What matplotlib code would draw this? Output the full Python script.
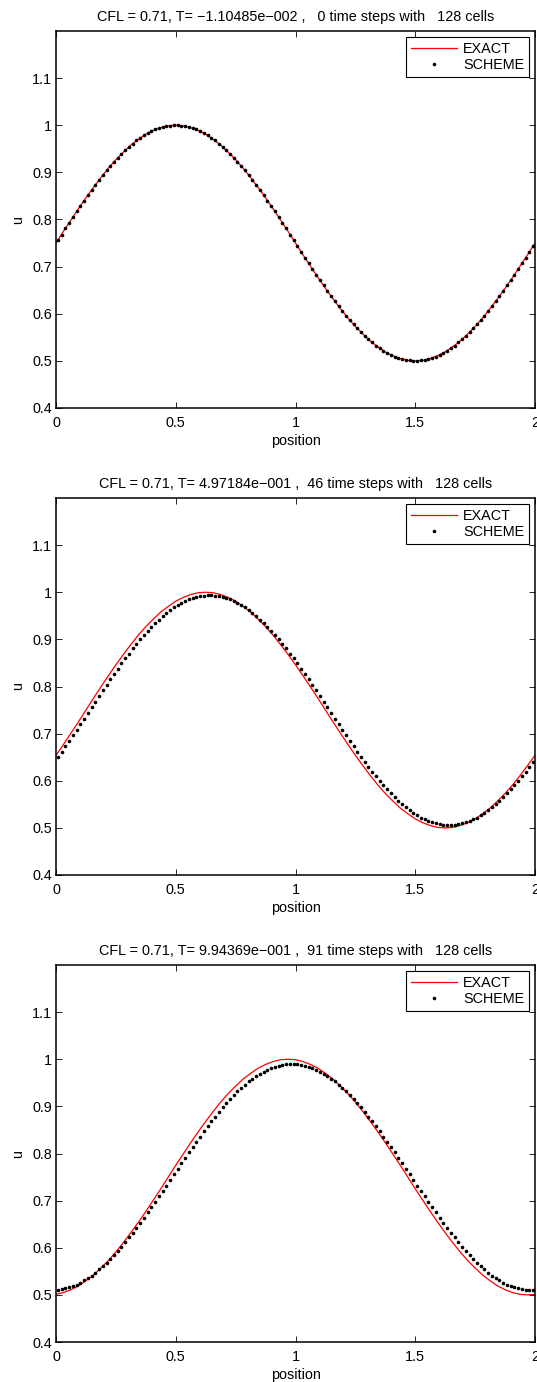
import numpy as np
import matplotlib
matplotlib.use("Agg")
import matplotlib.pyplot as plt
from matplotlib.ticker import FixedLocator, FuncFormatter

plt.rcParams['font.family'] = ['Liberation Sans', 'DejaVu Sans']
plt.rcParams['font.size'] = 10.4

# ---- data ----
n_cells = 128
x_cells = (np.arange(n_cells) + 0.5) * 2.0 / n_cells      # cell centres
x_exact = np.arange(65) * 2.0 / 64                           # exact-solution sample positions

titles = [
    "CFL = 0.71, T= \u22121.10485e\u2212002 ,   0 time steps with   128 cells",
    "CFL = 0.71, T= 4.97184e\u2212001 ,  46 time steps with   128 cells",
    "CFL = 0.71, T= 9.94369e\u2212001 ,  91 time steps with   128 cells",
]

exact_1 = [0.750, 0.775, 0.799, 0.823, 0.846, 0.868, 0.889, 0.909, 0.927, 0.943, 0.958, 0.970, 0.981,
           0.989, 0.995, 0.999, 1.000, 0.999, 0.995, 0.989, 0.981, 0.970, 0.958, 0.943, 0.927, 0.909,
           0.889, 0.868, 0.846, 0.823, 0.799, 0.775, 0.750, 0.725, 0.701, 0.677, 0.654, 0.632, 0.611,
           0.591, 0.573, 0.557, 0.542, 0.530, 0.519, 0.511, 0.505, 0.501, 0.500, 0.501, 0.505, 0.511,
           0.519, 0.530, 0.542, 0.557, 0.573, 0.591, 0.611, 0.632, 0.654, 0.677, 0.701, 0.725, 0.750]

scheme_1 = [0.756, 0.768, 0.781, 0.793, 0.805, 0.817, 0.828, 0.840, 0.851, 0.862, 0.873, 0.884, 0.894,
            0.904, 0.913, 0.922, 0.931, 0.939, 0.947, 0.954, 0.961, 0.968, 0.973, 0.979, 0.983, 0.987,
            0.991, 0.994, 0.996, 0.998, 0.999, 1.000,
            1.000, 0.999, 0.998, 0.996, 0.994, 0.991, 0.987, 0.983, 0.979, 0.973, 0.968, 0.961, 0.954,
            0.947, 0.939, 0.931, 0.922, 0.913, 0.904, 0.894, 0.884, 0.873, 0.862, 0.851, 0.840, 0.828,
            0.817, 0.805, 0.793, 0.781, 0.768, 0.756,
            0.744, 0.732, 0.719, 0.707, 0.695, 0.683, 0.672, 0.660, 0.649, 0.638, 0.627, 0.616, 0.606,
            0.596, 0.587, 0.578, 0.569, 0.561, 0.553, 0.546, 0.539, 0.532, 0.527, 0.521, 0.517, 0.513,
            0.509, 0.506, 0.504, 0.502, 0.501, 0.500,
            0.500, 0.501, 0.502, 0.504, 0.506, 0.509, 0.513, 0.517, 0.521, 0.527, 0.532, 0.539, 0.546,
            0.553, 0.561, 0.569, 0.578, 0.587, 0.596, 0.606, 0.616, 0.627, 0.638, 0.649, 0.660, 0.672,
            0.683, 0.695, 0.707, 0.719, 0.732, 0.744]

exact_2 = [0.654, 0.677, 0.701, 0.725, 0.750, 0.775, 0.799, 0.823, 0.846, 0.868, 0.889, 0.909, 0.927,
           0.943, 0.958, 0.970, 0.981, 0.989, 0.995, 0.999, 1.000, 0.999, 0.995, 0.989, 0.981, 0.970,
           0.958, 0.943, 0.927, 0.909, 0.889, 0.868, 0.846, 0.823, 0.799, 0.775, 0.750, 0.725, 0.701,
           0.677, 0.654, 0.632, 0.611, 0.591, 0.573, 0.557, 0.542, 0.530, 0.519, 0.511, 0.505, 0.501,
           0.500, 0.501, 0.505, 0.511, 0.519, 0.530, 0.542, 0.557, 0.573, 0.591, 0.611, 0.632, 0.654]

scheme_2 = [0.651, 0.662, 0.673, 0.685, 0.697, 0.708, 0.720, 0.732, 0.744, 0.756, 0.768, 0.780, 0.792,
            0.803, 0.815, 0.827, 0.838, 0.849, 0.860, 0.870, 0.881, 0.890, 0.900, 0.909, 0.918, 0.927,
            0.935, 0.942, 0.949, 0.956, 0.962, 0.968, 0.973, 0.978, 0.982, 0.985, 0.988, 0.990, 0.992,
            0.993, 0.994, 0.994, 0.993, 0.992, 0.990, 0.988, 0.985, 0.982, 0.978, 0.973, 0.968, 0.962,
            0.956, 0.949, 0.942, 0.935, 0.927, 0.918, 0.909, 0.900, 0.890, 0.881, 0.870, 0.860, 0.849,
            0.838, 0.827, 0.815, 0.803, 0.792, 0.780, 0.768, 0.756, 0.744, 0.732, 0.720, 0.708, 0.697,
            0.685, 0.673, 0.662, 0.651, 0.640, 0.630, 0.619, 0.610, 0.600, 0.591, 0.582, 0.573, 0.565,
            0.558, 0.551, 0.544, 0.538, 0.532, 0.527, 0.522, 0.518, 0.515, 0.512, 0.510, 0.508, 0.507,
            0.506, 0.506, 0.507, 0.508, 0.510, 0.512, 0.515, 0.518, 0.522, 0.527, 0.532, 0.538, 0.544,
            0.551, 0.558, 0.565, 0.573, 0.582, 0.591, 0.600, 0.610, 0.619, 0.630, 0.640]

exact_3 = [0.501, 0.505, 0.511, 0.519, 0.530, 0.542, 0.557, 0.573, 0.591, 0.611, 0.632, 0.654, 0.677,
           0.701, 0.725, 0.750, 0.775, 0.799, 0.823, 0.846, 0.868, 0.889, 0.909, 0.927, 0.943, 0.958,
           0.970, 0.981, 0.989, 0.995, 0.999, 1.000, 0.999, 0.995, 0.989, 0.981, 0.970, 0.958, 0.943,
           0.927, 0.909, 0.889, 0.868, 0.846, 0.823, 0.799, 0.775, 0.750, 0.725, 0.701, 0.677, 0.654,
           0.632, 0.611, 0.591, 0.573, 0.557, 0.542, 0.530, 0.519, 0.511, 0.505, 0.501, 0.500, 0.501]

scheme_3 = [0.511, 0.512, 0.514, 0.516, 0.519, 0.522, 0.526, 0.531, 0.536, 0.541, 0.547, 0.554, 0.561,
            0.568, 0.576, 0.585, 0.593, 0.602, 0.612, 0.622, 0.632, 0.642, 0.653, 0.664, 0.675, 0.686,
            0.697, 0.709, 0.721, 0.732, 0.744, 0.756, 0.768, 0.779, 0.791, 0.803, 0.814, 0.825, 0.836,
            0.847, 0.858, 0.868, 0.878, 0.888, 0.898, 0.907, 0.915, 0.924, 0.932, 0.939, 0.946, 0.953,
            0.959, 0.964, 0.969, 0.974, 0.978, 0.981, 0.984, 0.986, 0.988, 0.989, 0.990, 0.990, 0.989,
            0.988, 0.986, 0.984, 0.981, 0.978, 0.974, 0.969, 0.964, 0.959, 0.953, 0.946, 0.939, 0.932,
            0.924, 0.915, 0.907, 0.898, 0.888, 0.878, 0.868, 0.858, 0.847, 0.836, 0.825, 0.814, 0.803,
            0.791, 0.779, 0.768, 0.756, 0.744, 0.732, 0.721, 0.709, 0.697, 0.686, 0.675, 0.664, 0.653,
            0.642, 0.632, 0.622, 0.612, 0.602, 0.593, 0.585, 0.576, 0.568, 0.561, 0.554, 0.547, 0.541,
            0.536, 0.531, 0.526, 0.522, 0.519, 0.516, 0.514, 0.512, 0.511, 0.510, 0.510]

exact_series = [exact_1, exact_2, exact_3]
scheme_series = [scheme_1, scheme_2, scheme_3]

x_ticks = [0, 0.5, 1, 1.5, 2]
y_ticks = [0.4, 0.5, 0.6, 0.7, 0.8, 0.9, 1.0, 1.1]

# ---- figure ----
W, H = 537, 1382
fig = plt.figure(figsize=(W / 100, H / 100), dpi=100)

ax_left, ax_right = 56, 535
ax_h = 377
bottoms_px = [408, 875, 1342]

fmt = FuncFormatter(lambda v, p: "%g" % v)

for k in range(3):
    b = bottoms_px[k]
    ax = fig.add_axes([ax_left / W, 1 - b / H, (ax_right - ax_left) / W, ax_h / H])
    ax.plot(x_exact, exact_series[k], color='#ff0000', lw=0.9, label='EXACT', zorder=2)
    ax.plot(x_cells, scheme_series[k], linestyle='none', marker='o', ms=2.6, mew=0,
            color='black', label='SCHEME', zorder=3)
    ax.set_xlim(0, 2)
    ax.set_ylim(0.4, 1.2)
    ax.xaxis.set_major_locator(FixedLocator(x_ticks))
    ax.yaxis.set_major_locator(FixedLocator(y_ticks))
    ax.xaxis.set_major_formatter(fmt)
    ax.yaxis.set_major_formatter(fmt)
    ax.tick_params(direction='in', length=4, width=0.6, top=True, right=True,
                   labelsize=10.4, pad=3, colors='black')
    ax.tick_params(axis='x', pad=5.5)
    for s in ax.spines.values():
        s.set_linewidth(1.1)
        s.set_color('black')
    ax.set_title(titles[k], fontsize=10.4, pad=7)
    ax.set_xlabel('position', fontsize=10.4, labelpad=3)
    ax.set_ylabel('u', fontsize=10.4, labelpad=5)
    leg = ax.legend(loc='upper right', fontsize=10.4, handlelength=3.2, handletextpad=0.4,
                    borderpad=0.35, labelspacing=0.15, borderaxespad=0.4, fancybox=False,
                    framealpha=1, edgecolor='black', markerscale=1.0)
    leg.get_frame().set_linewidth(0.8)

fig.savefig('out.png', dpi=100)
